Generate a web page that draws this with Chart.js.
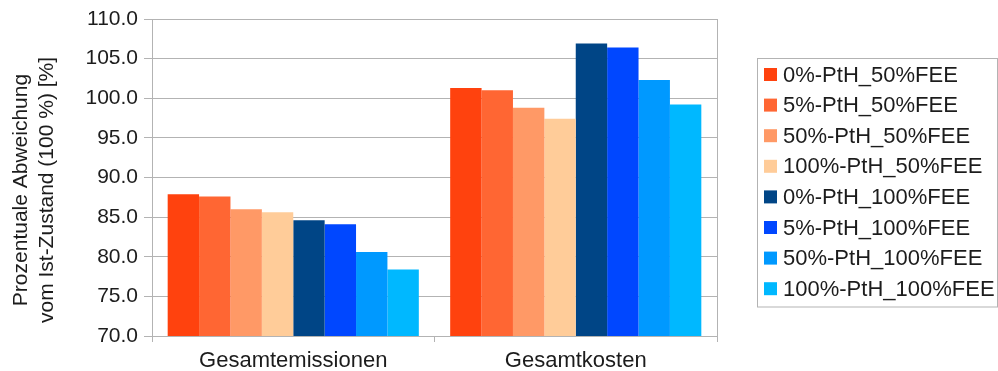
<!DOCTYPE html>
<html lang="de">
<head>
<meta charset="utf-8">
<title>Prozentuale Abweichung</title>
<script src="https://cdn.jsdelivr.net/npm/chart.js@4/dist/chart.umd.min.js"></script>
<style>
  html, body { margin: 0; padding: 0; background: #fff; }
  #wrap { width: 998px; height: 371px; position: relative; }
</style>
</head>
<body>
<div id="wrap"><canvas id="abweichungChart"></canvas></div>
<script>
const categories = ["Gesamtemissionen", "Gesamtkosten"];
const scenarioNames = [
    "0%-PtH_50%FEE", "5%-PtH_50%FEE", "50%-PtH_50%FEE", "100%-PtH_50%FEE",
    "0%-PtH_100%FEE", "5%-PtH_100%FEE", "50%-PtH_100%FEE", "100%-PtH_100%FEE"
];
const scenarioColors = [
    "#ff420e", "#ff6633", "#ff9966", "#ffcc99",
    "#004586", "#0047ff", "#0099ff", "#00b8ff"
];
// one value per scenario, in the order of scenarioNames
const emissionValues = [87.9, 87.6, 86.0, 85.6, 84.6, 84.1, 80.6, 78.4];
const costValues = [101.3, 101.0, 98.8, 97.4, 106.9, 106.4, 102.3, 99.2];
const yTitleLines = ["Prozentuale Abweichung", "vom Ist-Zustand (100 %) [%]"];

const FONT = "'Liberation Sans', Arial, sans-serif";
const TEXT = "#1c1c1c";
const GRID = "#b3b3b3";

let datasets = [];
scenarioNames.forEach((name, i) => {
    datasets.push({
        label: name,
        backgroundColor: scenarioColors[i],
        borderWidth: 0,
        data: [emissionValues[i], costValues[i]]
    });
});

// y axis title, legend box and right frame line
const frame = {
    id: "frame",
    afterDraw(chart){
        const ctx = chart.ctx;
        const area = chart.chartArea;
        ctx.save();

        ctx.strokeStyle = GRID;
        ctx.lineWidth = 1;
        ctx.beginPath();
        ctx.moveTo(Math.round(area.right) + 0.5, area.top);
        ctx.lineTo(Math.round(area.right) + 0.5, area.bottom + 6);
        ctx.stroke();

        ctx.fillStyle = TEXT;
        ctx.font = "21px " + FONT;
        ctx.textAlign = "center";
        ctx.textBaseline = "middle";
        [21, 47].forEach((x, i) => {
            ctx.save();
            ctx.translate(x, 190);
            ctx.rotate(-Math.PI / 2);
            ctx.fillText(yTitleLines[i], 0, 0);
            ctx.restore();
        });

        ctx.strokeStyle = GRID;
        ctx.strokeRect(757.5, 58.5, 240, 248.5);
        ctx.font = "22px " + FONT;
        ctx.textAlign = "left";
        chart.data.datasets.forEach((ds, i) => {
            const cy = 74.5 + i * 30.6;
            ctx.fillStyle = ds.backgroundColor;
            ctx.fillRect(764, cy - 6.5, 13, 13);
            ctx.fillStyle = TEXT;
            ctx.fillText(ds.label, 783, cy + 1);
        });
        ctx.restore();
    }
};

new Chart("abweichungChart", {
    type: "bar",
    data: {
        labels: categories,
        datasets: datasets
    },
    options: {
        responsive: true,
        maintainAspectRatio: false,
        animation: false,
        layout: {
            padding: {top: 19, right: 281, left: 0, bottom: 0}
        },
        datasets: {
            bar: {
                categoryPercentage: 0.889,
                barPercentage: 1
            }
        },
        scales: {
            x: {
                grid: {
                    offset: true,
                    drawOnChartArea: false,
                    color: GRID,
                    tickLength: 6
                },
                border: {color: GRID},
                ticks: {
                    color: TEXT,
                    padding: 6,
                    font: {family: FONT, size: 22}
                },
                afterFit(scale){ scale.height = 35; }
            },
            y: {
                min: 70,
                max: 110,
                grid: {
                    color: GRID,
                    tickLength: 8
                },
                border: {color: GRID},
                ticks: {
                    stepSize: 5,
                    color: TEXT,
                    padding: 6,
                    font: {family: FONT, size: 21},
                    callback: v => v.toFixed(1)
                },
                afterFit(scale){ scale.width = 152; }
            }
        },
        plugins: {
            legend: {display: false},
            tooltip: {enabled: false}
        }
    },
    plugins: [frame]
});
</script>
</body>
</html>
